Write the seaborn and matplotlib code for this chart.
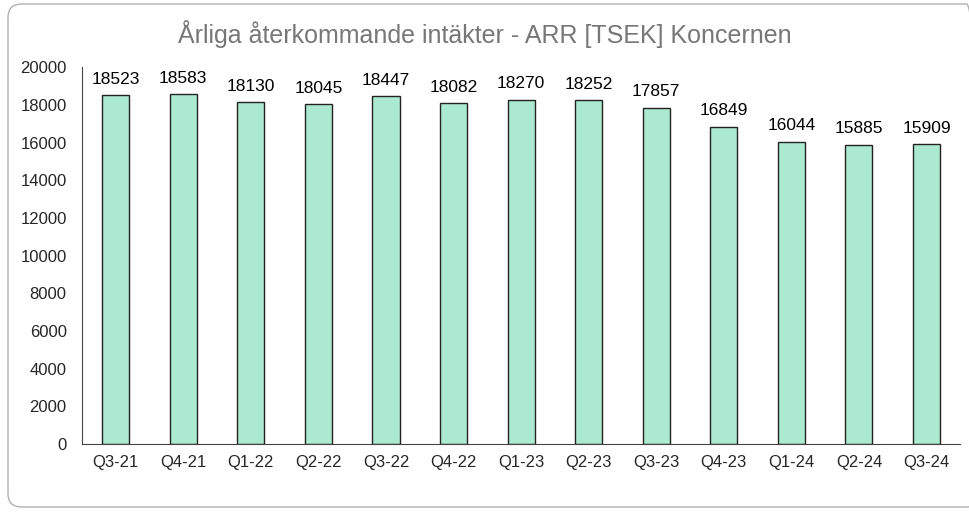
import numpy as np
import pandas as pd
import matplotlib
matplotlib.use("Agg")
import matplotlib.pyplot as plt
from matplotlib.patches import FancyBboxPatch
import seaborn as sns

# Data
quarters = ["Q3-21", "Q4-21", "Q1-22", "Q2-22", "Q3-22", "Q4-22", "Q1-23",
            "Q2-23", "Q3-23", "Q4-23", "Q1-24", "Q2-24", "Q3-24"]
arr_tsek = [18523, 18583, 18130, 18045, 18447, 18082, 18270,
            18252, 17857, 16849, 16044, 15885, 15909]

df = pd.DataFrame({"kvartal": quarters, "arr": arr_tsek})

sns.set_style("white")
plt.rcParams["font.family"] = ["Liberation Sans", "DejaVu Sans"]

fig = plt.figure(figsize=(9.7, 5.13), dpi=100)
ax = fig.add_axes([0.0845, 0.1345, 0.9055, 0.7345])

# rounded grey frame around the whole chart
frame = FancyBboxPatch((8 / 970, 6 / 513), 972 / 970, 503 / 513,
                       boxstyle="round,pad=0,rounding_size=0.014",
                       transform=fig.transFigure, fill=False,
                       edgecolor="#b0b0b0", linewidth=1.0,
                       mutation_aspect=970 / 513)
fig.patches.append(frame)

sns.barplot(data=df, x="kvartal", y="arr", ax=ax, color="#abead1",
            width=0.4, edgecolor="#222222", linewidth=1.0, saturation=1)

for c in ax.containers:
    ax.bar_label(c, fmt="%d", padding=6, fontsize=12.5, color="black")

ax.set_ylim(0, 20000)
ax.set_yticks(np.arange(0, 20001, 2000))
ax.set_xlim(-0.5, len(quarters) - 0.5)
ax.set_xlabel("")
ax.set_ylabel("")

# ticks between categories on the x axis, none on y
ax.set_xticks(np.arange(-0.5, len(quarters), 1), minor=True)
ax.tick_params(axis="x", which="major", length=0, pad=8, labelsize=12)
ax.tick_params(axis="x", which="minor", length=5, width=0.8,
               color="#444444", direction="out")
ax.tick_params(axis="y", length=0, pad=11, labelsize=12)

for side in ["top", "right"]:
    ax.spines[side].set_visible(False)
for side in ["left", "bottom"]:
    ax.spines[side].set_color("#444444")
    ax.spines[side].set_linewidth(0.8)

fig.text(0.5, 0.934, "Årliga återkommande intäkter - ARR [TSEK] Koncernen",
         ha="center", va="center", fontsize=18, color="#777777")

fig.savefig("out.png", dpi=100)
